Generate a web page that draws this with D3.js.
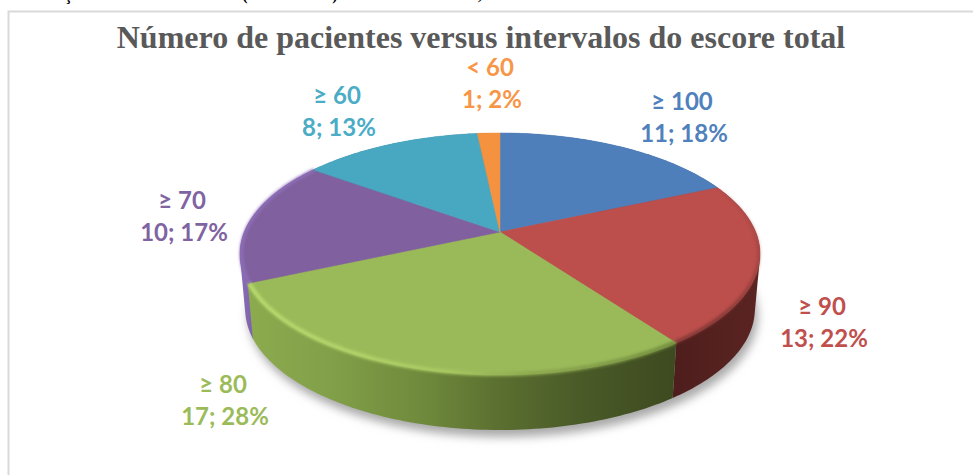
<!DOCTYPE html>
<html>
<head>
<meta charset="utf-8">
<title>Número de pacientes versus intervalos do escore total</title>
<style>
    html, body { margin: 0; padding: 0; background: #fff; overflow: hidden; }
    svg { display: block; }
    .title { font-family: "Liberation Serif", serif; font-weight: bold; font-size: 32px; fill: #595959; }
    .label { font-family: Lato, "Open Sans", sans-serif; font-weight: bold; font-size: 24px; }
    .clipped { font-family: "Liberation Serif", serif; font-weight: bold; font-size: 16px; fill: #000; }
</style>
<script src="https://cdn.jsdelivr.net/npm/d3@7"></script>
</head>
<body>
<script>
var categories = ['≥ 100', '≥ 90', '≥ 80', '≥ 70', '≥ 60', '< 60'];
var counts = [11, 13, 17, 10, 8, 1];
var percents = [18, 22, 28, 17, 13, 2];
var titleText = 'Número de pacientes versus intervalos do escore total';
var cutLine = ['ç', '(', ')', ','];   // bits of the text line cut off above the chart

var colors = ['#4f7fbb', '#bc4f4c', '#9aba59', '#80609e', '#48a8c2', '#f4923f'];
var labelColors = ['#4f81bd', '#c0504d', '#9bbb59', '#8064a2', '#4bacc6', '#f79646'];

var width = 973, height = 475;

var svg = d3.select('body').append('svg').attr('width', width).attr('height', height);
var defs = svg.append('defs');

defs.append('filter').attr('id', 'soft').attr('x', '-10%').attr('y', '-10%').attr('width', '120%').attr('height', '120%')
    .append('feGaussianBlur').attr('stdDeviation', 5);
defs.append('filter').attr('id', 'rimBlur').attr('filterUnits', 'userSpaceOnUse')
    .attr('x', 0).attr('y', 0).attr('width', width).attr('height', height)
    .append('feGaussianBlur').attr('stdDeviation', 1.5);

function hGradient(id, stops) {
    var g = defs.append('linearGradient').attr('id', id).attr('gradientUnits', 'userSpaceOnUse')
        .attr('x1', 240).attr('x2', 760).attr('y1', 0).attr('y2', 0);
    stops.forEach(function (s) {
        g.append('stop').attr('offset', s[0]).attr('stop-color', s[1]);
    });
}
hGradient('sideGreen', [[0, '#8dac4e'], [0.17, '#82a049'], [0.35, '#6f8a3c'], [0.5, '#5b6f30'], [0.65, '#4a5b28'], [0.83, '#3e4a20'], [1, '#3e4a20']]);
hGradient('sideRed', [[0, '#4e1f1d'], [0.83, '#4e1e1c'], [1, '#5a2422']]);
hGradient('sidePurple', [[0, '#8a6db9'], [0.03, '#7a5fa6'], [1, '#6a5088']]);
hGradient('rimGreen', [[0, '#b9dc70'], [0.2, '#b4d66c'], [0.4, '#a9c963'], [0.55, '#8ea950'], [0.85, '#6f8a3c'], [1, '#6f8a3c']]);

// the dark edge of the red slice only shows towards the front
var rimRed = defs.append('linearGradient').attr('id', 'rimRed').attr('gradientUnits', 'userSpaceOnUse')
    .attr('x1', 0).attr('x2', 0).attr('y1', 190).attr('y2', 320);
rimRed.append('stop').attr('offset', 0).attr('stop-color', '#7c3533').attr('stop-opacity', 0.1);
rimRed.append('stop').attr('offset', 0.55).attr('stop-color', '#7c3533').attr('stop-opacity', 0.45);
rimRed.append('stop').attr('offset', 1).attr('stop-color', '#7c3533').attr('stop-opacity', 1);

var sideFills = ['#2e4f78', 'url(#sideRed)', 'url(#sideGreen)', 'url(#sidePurple)', '#2e6c7c', '#9c5c28'];
var rimColors = ['#3f6a9f', 'url(#rimRed)', 'url(#rimGreen)', '#8f70bb', '#3f8ea3', '#c87a35'];

// perspective disc: far edge is squeezed, near edge stretched
var persp = 0.1818;
var sx = d3.scaleLinear().domain([-1, 1]).range([500 - 255.7, 500 + 255.7]);
var syTop = d3.scaleLinear().domain([-1, 1]).range([232 - 117, 232 + 117]);
var sxBottom = d3.scaleLinear().domain([-1, 1]).range([500 - 250.6, 500 + 250.6]);
var syBottom = d3.scaleLinear().domain([-1, 1]).range([287 - 117, 287 + 117]);

function project(angle, r, fx, fy) {
    var w = 1 + persp * r * Math.cos(angle);
    return [fx(r * Math.sin(angle) / w), fy(-r * Math.cos(angle) / w)];
}
function arcPoints(a0, a1, r, fx, fy) {
    var n = Math.max(2, Math.ceil(Math.abs(a1 - a0) / 0.02));
    return d3.range(n + 1).map(function (i) {
        return project(a0 + (a1 - a0) * i / n, r, fx, fy);
    });
}
var line = d3.line();

var slices = d3.pie().sort(null)(counts);
var TAU = Math.PI * 2;

// ground shadow
svg.append('path')
    .attr('d', line(arcPoints(0, TAU, 1, sxBottom, syBottom)) + 'Z')
    .attr('transform', 'translate(3,7)')
    .attr('fill', '#a9a9a9')
    .attr('filter', 'url(#soft)');

// pie sides, back slices first. hull so the silhouette between the two rims is filled too
var sideOrder = [4, 5, 0, 3, 1, 2];
svg.append('g').selectAll('path')
    .data(sideOrder)
    .join('path')
    .attr('d', function (i) {
        var s = slices[i];
        var top = arcPoints(s.startAngle, s.endAngle, 1, sx, syTop);
        var bottom = arcPoints(s.endAngle, s.startAngle, 1, sxBottom, syBottom);
        return line(d3.polygonHull(top.concat(bottom))) + 'Z';
    })
    .attr('fill', function (i) { return sideFills[i]; });

// top faces
svg.append('g').selectAll('path')
    .data(slices)
    .join('path')
    .attr('d', function (s) {
        var centre = [project(0, 0, sx, syTop)];
        return line(centre.concat(arcPoints(s.startAngle, s.endAngle, 1, sx, syTop))) + 'Z';
    })
    .attr('fill', function (s, i) { return colors[i]; })
    .attr('stroke', function (s, i) { return colors[i]; })
    .attr('stroke-width', 0.5);

// bevel along the rim of the front slices
svg.append('g').selectAll('path')
    .data(slices.filter(function (s, i) { return i >= 1 && i <= 3; }))
    .join('path')
    .attr('d', function (s) {
        return line(arcPoints(s.startAngle, s.endAngle, 0.995, sx, syTop));
    })
    .attr('fill', 'none')
    .attr('stroke', function (s) { return rimColors[s.index]; })
    .attr('stroke-width', function (s) { return s.index === 2 ? 4 : 3; })
    .attr('filter', 'url(#rimBlur)');

// frame of the chart area (only top and left are in the crop)
svg.append('path')
    .attr('d', 'M8.5,' + height + 'V11.5H' + width)
    .attr('fill', 'none')
    .attr('stroke', '#d9d9d9')
    .attr('stroke-width', 2);

svg.append('text').attr('class', 'title')
    .attr('x', 481).attr('y', 48)
    .attr('text-anchor', 'middle')
    .text(titleText);

// data labels
var labelAnchors = [[682, 102], [822, 307], [223, 385], [182, 201], [337, 96], [490, 68]];
var labels = svg.append('g').selectAll('text')
    .data(categories)
    .join('text')
    .attr('class', 'label')
    .attr('text-anchor', 'middle')
    .attr('fill', function (d, i) { return labelColors[i]; });
labels.append('tspan')
    .attr('x', function (d, i) { return labelAnchors[i][0]; })
    .attr('y', function (d, i) { return labelAnchors[i][1] + 8; })
    .text(function (d) { return d; });
labels.append('tspan')
    .attr('x', function (d, i) { return labelAnchors[i][0] + 2; })
    .attr('y', function (d, i) { return labelAnchors[i][1] + 40; })
    .text(function (d, i) { return counts[i] + '; ' + percents[i] + '%'; });

// text line above, almost entirely outside the picture
var cutX = [68, 245, 335, 480];
svg.append('g').selectAll('text')
    .data(cutLine)
    .join('text')
    .attr('class', 'clipped')
    .attr('text-anchor', 'middle')
    .attr('x', function (d, i) { return cutX[i]; })
    .attr('y', 0)
    .text(function (d) { return d; });
</script>
</body>
</html>
